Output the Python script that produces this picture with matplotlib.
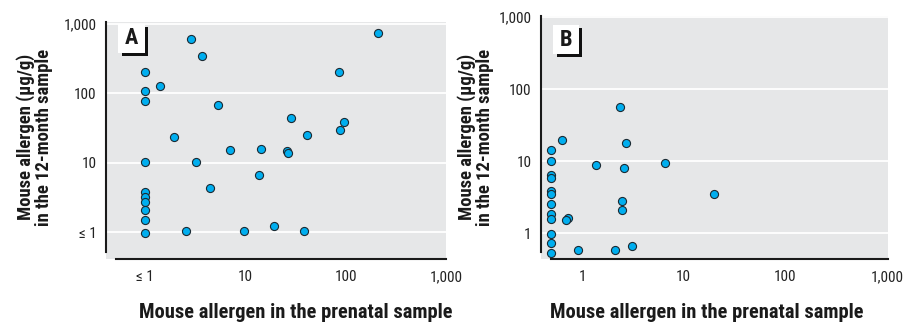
import matplotlib
matplotlib.use("Agg")
import matplotlib.pyplot as plt
from matplotlib.patches import Rectangle
from matplotlib.ticker import FixedLocator, NullLocator

plt.rcParams['font.family'] = ['Roboto Condensed', 'Roboto', 'DejaVu Sans']

# Panel A data (prenatal x, 12-month y), values in µg/g
a_x = [208, 2.87, 3.67, 1, 1, 1, 1.40, 85.8, 5.29, 28.6, 95.5, 87.8, 40.9, 1.94,
       7.01, 14.3, 26.1, 26.9, 1, 3.24, 13.6, 4.47, 1, 1, 1, 1, 1, 1, 2.56, 9.6, 19.2, 38.5]
a_y = [745, 604, 344, 205, 109, 76.7, 127, 200, 68.6, 44.1, 39, 29.9, 24.9, 23.3,
       15.4, 15.6, 14.9, 13.7, 10.3, 10.1, 6.6, 4.38, 3.84, 3.19, 2.70, 2.09, 1.50, 0.98,
       1.04, 1.03, 1.24, 1.03]

# Panel B data
b_x = [2.36, 0.64, 2.69, 0.49, 0.49, 1.36, 2.61, 6.59, 0.49, 0.49, 0.49, 0.49, 19.7,
       0.49, 2.46, 2.49, 0.49, 0.49, 0.72, 0.69, 0.49, 0.49, 0.49, 0.91, 2.11, 3.12]
b_y = [56.8, 19.6, 18.1, 14.2, 10.1, 8.8, 8.0, 9.6, 6.5, 5.9, 3.9, 3.48, 3.5,
       2.58, 2.78, 2.09, 1.84, 1.58, 1.63, 1.55, 0.98, 0.74, 0.54, 0.59, 0.59, 0.67]

tick_vals = [1, 10, 100, 1000]
a_ticklabels = ['≤ 1', '10', '100', '1,000']
b_ticklabels = ['1', '10', '100', '1,000']
panel_labels = ['A', 'B']
xlabel = 'Mouse allergen in the prenatal sample'
ylabel = 'Mouse allergen (µg/g)\nin the 12-month sample'

W, H = 914, 322
fig = plt.figure(figsize=(W / 100, H / 100), dpi=100)

BG = '#e6e7e8'
DOT = '#00aeef'


def px_rect(l, t, r, b):
    return [l / W, 1 - b / H, (r - l) / W, (b - t) / H]


def make_panel(rect, xlim, ylim, xlabels, ylabels, xspine_lo, yspine_lo, xs, ys,
               box, shadow, letter, ylab_x, xlab_c):
    ax = fig.add_axes(px_rect(*rect))
    ax.set_facecolor(BG)
    ax.set_xscale('log')
    ax.set_yscale('log')
    ax.set_xlim(*xlim)
    ax.set_ylim(*ylim)
    ax.xaxis.set_major_locator(FixedLocator(tick_vals))
    ax.yaxis.set_major_locator(FixedLocator(tick_vals))
    ax.xaxis.set_minor_locator(NullLocator())
    ax.yaxis.set_minor_locator(NullLocator())
    ax.set_xticklabels(xlabels)
    ax.set_yticklabels(ylabels)
    ax.tick_params(axis='both', length=0, labelsize=11, colors='#222222')
    ax.tick_params(axis='x', pad=8)
    ax.tick_params(axis='y', pad=7)
    for s in ['top', 'right']:
        ax.spines[s].set_visible(False)
    ax.spines['left'].set_linewidth(1.5)
    ax.spines['bottom'].set_linewidth(1.5)
    ax.spines['left'].set_color('#1a1a1a')
    ax.spines['bottom'].set_color('#1a1a1a')
    ax.spines['left'].set_bounds(yspine_lo, ylim[1])
    ax.spines['bottom'].set_bounds(xspine_lo, xlim[1])
    ax.grid(axis='y', color='white', linewidth=1.3)
    ax.set_axisbelow(True)
    ax.scatter(xs, ys, s=34, facecolor=DOT, edgecolor='#1b2a33', linewidth=0.8,
               zorder=3, clip_on=False)
    # letter box with shadow (figure pixel coords)
    l, t, r, b = shadow
    fig.patches.append(Rectangle((l / W, 1 - b / H), (r - l) / W, (b - t) / H,
                                 transform=fig.transFigure, facecolor='#111111',
                                 edgecolor='none', zorder=5))
    l, t, r, b = box
    fig.patches.append(Rectangle((l / W, 1 - b / H), (r - l) / W, (b - t) / H,
                                 transform=fig.transFigure, facecolor='white',
                                 edgecolor='none', zorder=6))
    fig.text((l + r) / 2 / W, 1 - (t + b) / 2 / H, letter, ha='center', va='center',
             fontsize=16, fontweight='bold', color='#1a1a1a', zorder=7)
    fig.text(ylab_x / W, 1 - 137 / H, ylabel, rotation=90, ha='center', va='center',
             fontsize=13.4, fontweight='bold', color='#1a1a1a', linespacing=1.0)
    fig.text(xlab_c / W, 1 - 313 / H, xlabel, ha='center', va='center',
             fontsize=14.8, fontweight='bold', color='#1a1a1a')
    return ax


make_panel((106, 22.3, 446, 259), (0.409, 1000), (0.413, 1050), a_ticklabels, a_ticklabels,
           0.51, 0.52, a_x, a_y, (117.7, 24, 145, 52.7), (122, 27, 147.7, 55.7), panel_labels[0],
           35, 296)
make_panel((541, 15.7, 888.3, 259), (0.395, 1028), (0.44, 1052), b_ticklabels, b_ticklabels,
           0.496, 0.55, b_x, b_y, (552.7, 25, 579.3, 54.3), (556.7, 27.7, 582.3, 57.3), panel_labels[1],
           475.5, 707)

fig.savefig('out.png', dpi=100)
